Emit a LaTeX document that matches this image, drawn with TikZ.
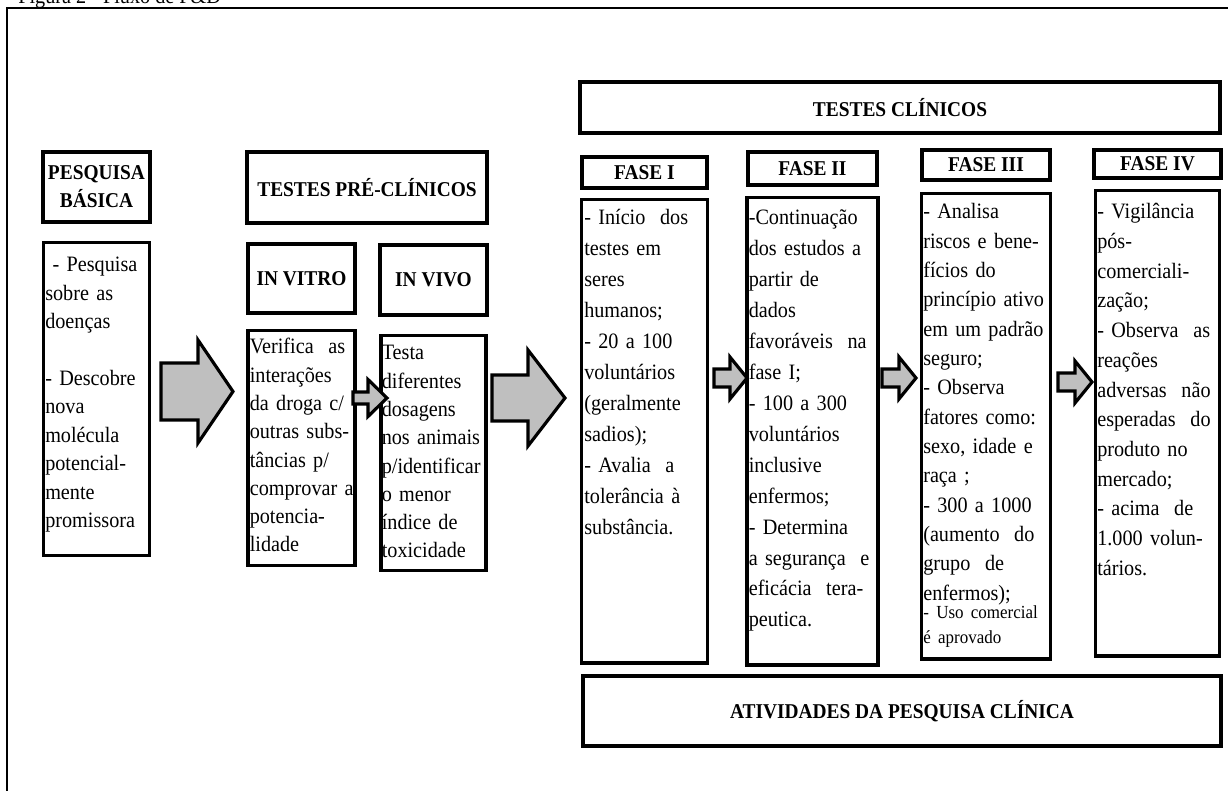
\documentclass[tikz,border=0pt]{standalone}
\usepackage{fontspec}
\setmainfont{Liberation Serif}[FakeStretch=0.92]
\usetikzlibrary{positioning,calc}

\newcommand{\firstline}{\rule{0pt}{10pt}}
\newcommand{\blockarrow}[5]{%
  \draw[barrow] ($(#1)+(0,#3)$) -- ($(#2)+(-#5,#3)$) -- ($(#2)+(-#5,#4)$)
    -- (#2) -- ($(#2)+(-#5,-#4)$) -- ($(#2)+(-#5,-#3)$) -- ($(#1)+(0,-#3)$) -- cycle;}

\begin{document}
\begin{tikzpicture}[
  x=0.02cm, y=-0.02cm,
  box/.style={
    draw,
    line width=1.8pt,
    fill=white,
    inner sep=0pt
  },
  head/.style={box, align=center, font=\bfseries\fontsize{12}{16}\selectfont},
  body/.style={box, anchor=north},
  txt/.style={anchor=north west, align=left, inner sep=0pt},
  barrow/.style={draw, line width=1.8pt, fill=gray!50, line join=miter},
  frame/.style={draw, line width=1.4pt}
]
\useasboundingbox (0,0) rectangle (1228,791);

% legenda e moldura
\node[anchor=base west, inner sep=0pt, font=\fontsize{12.5}{14}\selectfont] (caption) at (18,4) {Figura 2 - Fluxo de P\&D};
\draw[frame] (1228,8) -- (7,8) -- (7,791);

% pesquisa basica
\node[head, minimum width=2.14cm, minimum height=1.4cm] (basic) at (96.5,187) {PESQUISA\\BÁSICA};
\node[body, below=0.34cm of basic, minimum width=2.12cm, minimum height=6.26cm] (basicbody) {};
\node[txt, text width=2.4cm, font=\fontsize{12.5}{16.2}\selectfont] (basictxt) at ($(basicbody.north west)+(3,13.4)$) {\firstline\ - Pesquisa\\ sobre as\\ doenças\\[16pt] - Descobre\\ nova\\ molécula\\ potencial-\\ mente\\ promissora};

% testes pre-clinicos
\node[head, minimum width=4.8cm, minimum height=1.42cm] (pre) at (367,187.5) {TESTES PRÉ-CLÍNICOS};
\node[head, minimum width=2.14cm, minimum height=1.38cm] (vitro) at (301.5,278.5) {IN VITRO};
\node[head, minimum width=2.14cm, minimum height=1.4cm] (vivo) at (433.5,280) {IN VIVO};
\node[body, below=0.28cm of vitro, minimum width=2.14cm, minimum height=4.7cm] (vitrobody) {};
\node[body, below=0.34cm of vivo, minimum width=2.1cm, minimum height=4.7cm] (vivobody) {};
\node[txt, text width=2.4cm, font=\fontsize{12.5}{16.1}\selectfont] (vitrotxt) at ($(vitrobody.north west)+(3,7.4)$) {\firstline Verifica~ as\\ interações\\ da droga c/\\ outras subs-\\ tâncias p/\\ comprovar a\\ potencia-\\ lidade};
\node[txt, text width=2.4cm, font=\fontsize{12.5}{16.1}\selectfont] (vivotxt) at ($(vivobody.north west)+(2,8.4)$) {\firstline Testa\\ diferentes\\ dosagens\\ nos animais\\ p/identificar\\ o menor\\ índice de\\ toxicidade};

% testes clinicos
\node[head, minimum width=12.8cm, minimum height=1.02cm] (clin) at (900,107.5) {TESTES CLÍNICOS};
\node[head, minimum width=2.5cm, minimum height=0.62cm] (f1) at (644.5,172.5) {FASE I};
\node[head, minimum width=2.58cm, minimum height=0.66cm] (f2) at (812.5,168.5) {FASE II};
\node[head, minimum width=2.56cm, minimum height=0.6cm] (f3) at (986,165) {FASE III};
\node[head, minimum width=2.54cm, minimum height=0.56cm] (f4) at (1157.5,164) {FASE IV};
\node[body, below=0.16cm of f1, minimum width=2.52cm, minimum height=9.28cm] (f1body) {};
\node[body, below=0.18cm of f2, minimum width=2.62cm, minimum height=9.36cm] (f2body) {};
\node[body, below=0.2cm of f3, minimum width=2.58cm, minimum height=9.32cm] (f3body) {};
\node[body, below=0.18cm of f4, minimum width=2.48cm, minimum height=9.32cm] (f4body) {};

\node[txt, text width=2.8cm, font=\fontsize{12.5}{17.6}\selectfont] (f1txt) at ($(f1body.north west)+(4,9.4)$) {\firstline - Início~ dos\\ testes em\\ seres\\ humanos;\\ - 20 a 100\\ voluntários\\ (geralmente\\ sadios);\\ - Avalia~ a\\ tolerância à\\ substância.};
\node[txt, text width=2.8cm, font=\fontsize{12.5}{17.6}\selectfont] (f2txt) at ($(f2body.north west)+(3,11.4)$) {\firstline -Continuação\\ dos estudos a\\ partir de\\ dados\\ favoráveis~ na\\ fase I;\\ - 100 a 300\\ voluntários\\ inclusive\\ enfermos;\\ - Determina\\ a segurança~ e\\ eficácia~ tera-\\ peutica.};
\node[txt, text width=2.8cm, font=\fontsize{12.5}{16.7}\selectfont] (f3txt) at ($(f3body.north west)+(3,9.4)$) {\firstline - Analisa\\ riscos e bene-\\ fícios do\\ princípio ativo\\ em um padrão\\ seguro;\\ - Observa\\ fatores como:\\ sexo, idade e\\ raça ;\\ - 300 a 1000\\ (aumento~ do\\ grupo~ de\\ enfermos);\\[-1.5pt] {\fontsize{10.5}{12}\selectfont - Uso comercial\\[-2.5pt] é aprovado}};
\node[txt, text width=2.8cm, font=\fontsize{12.5}{16.9}\selectfont] (f4txt) at ($(f4body.north west)+(3,12.4)$) {\firstline - Vigilância\\ pós-\\ comerciali-\\ zação;\\ - Observa~ as\\ reações\\ adversas~ não\\ esperadas~ do\\ produto no\\ mercado;\\ - acima~ de\\ 1.000 volun-\\ tários.};

\node[head, minimum width=12.76cm, minimum height=1.4cm] (activ) at (902,711) {ATIVIDADES DA PESQUISA CLÍNICA};

% setas
\coordinate (a1tail) at (161,391.5);
\coordinate (a1tip) at (233,391.5);
\coordinate (a2tail) at (492,398);
\coordinate (a2tip) at (565,398);
\coordinate (vtail) at (353,398);
\coordinate (vtip) at (387,398);
\coordinate (f12tail) at (714,378);
\coordinate (f12tip) at (747,378);
\coordinate (f23tail) at (882,378);
\coordinate (f23tip) at (916,378);
\coordinate (f34tail) at (1058,382);
\coordinate (f34tip) at (1092,382);

\blockarrow{a1tail}{a1tip}{28.5}{51.5}{35}
\blockarrow{a2tail}{a2tip}{23}{48}{37}
\blockarrow{vtail}{vtip}{6}{18.5}{19}
\blockarrow{f12tail}{f12tip}{9}{21}{17}
\blockarrow{f23tail}{f23tip}{9}{21}{17}
\blockarrow{f34tail}{f34tip}{9}{21}{17}
\end{tikzpicture}
\end{document}
